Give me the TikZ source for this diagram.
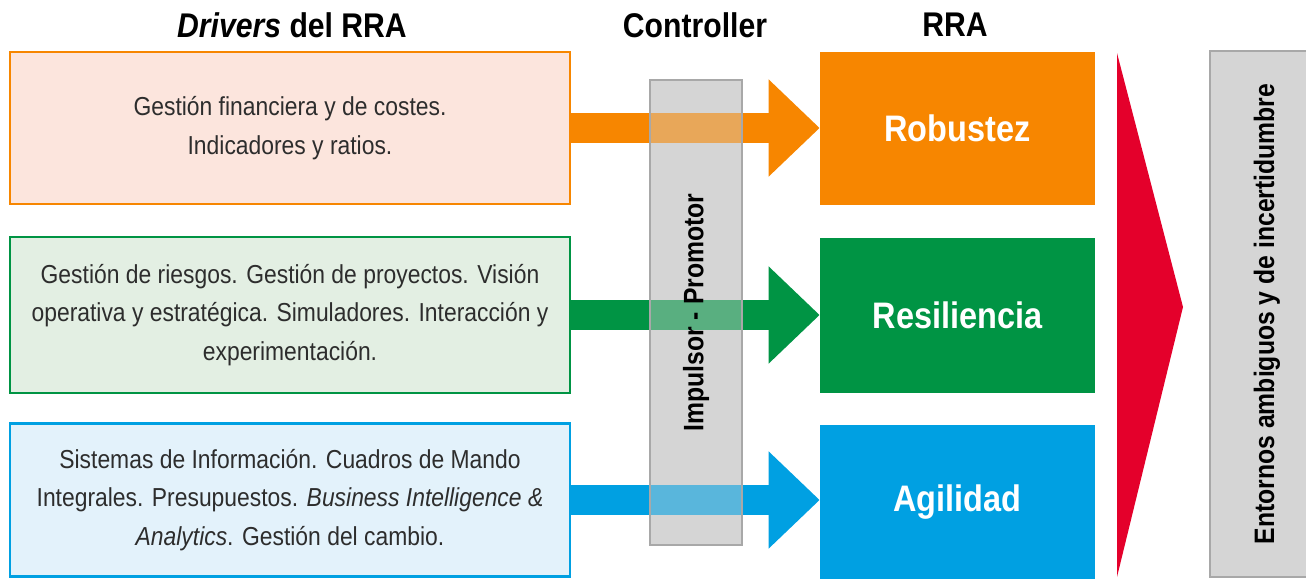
\documentclass[tikz,border=0pt]{standalone}
\usepackage{fontspec}
\setmainfont{Liberation Sans}[FakeStretch=0.88]
\usetikzlibrary{arrows.meta}
\definecolor{robcol}{RGB}{247,134,0}
\definecolor{rescol}{RGB}{0,148,68}
\definecolor{agicol}{RGB}{0,160,226}
\definecolor{robbg}{RGB}{252,229,221}
\definecolor{resbg}{RGB}{227,239,227}
\definecolor{agibg}{RGB}{227,242,251}
\definecolor{ctrlgray}{RGB}{213,213,213}
\definecolor{ctrlline}{RGB}{168,168,168}
\definecolor{envred}{RGB}{228,0,43}
\definecolor{bodytext}{RGB}{45,45,45}
\tikzset{
  driver/.style={draw=#1, line width=1.2pt, minimum width=11.2cm,
    align=center, text=bodytext, font=\fontsize{14.8}{22}\selectfont},
  rra/.style={fill=#1, minimum width=5.5cm, text=white,
    font=\bfseries\fontsize{21}{24}\selectfont},
  heading/.style={font=\bfseries\fontsize{19.5}{22}\selectfont},
  ctrlbox/.style={draw=ctrlline, line width=1.2pt, minimum width=1.84cm},
  bigarrow/.style={line width=0.6cm, -{Triangle[length=1.02cm,width=1.88cm]}},
  sidetext/.style={rotate=90, font=\bfseries\fontsize{16}{18}\selectfont}
}
\begin{document}
\begin{tikzpicture}[x=0.02cm, y=-0.02cm]
  \clip (0,0) rectangle (1306,579);

  % headings
  \node[heading] (hdrv) at (292,25) {\textit{Drivers} del RRA};
  \node[heading] (hctl) at (695,25) {Controller};
  \node[heading] (hrra) at (955,25) {RRA};

  % drivers
  \node[driver=robcol, fill=robbg, minimum height=3.04cm] (d1) at (290,128)
    {Gesti\'on financiera y de costes.\\Indicadores y ratios.};
  \node[driver=rescol, fill=resbg, minimum height=3.12cm] (d2) at (290,315)
    {Gesti\'on de riesgos. Gesti\'on de proyectos. Visi\'on\\
     operativa y estrat\'egica. Simuladores. Interacci\'on y\\
     experimentaci\'on.};
  \node[driver=agicol, fill=agibg, minimum height=3.06cm] (d3) at (290,500)
    {Sistemas de Informaci\'on. Cuadros de Mando\\
     Integrales. Presupuestos. \textit{Business Intelligence \&}\\
     \textit{Analytics}. Gesti\'on del cambio.};

  % RRA
  \node[rra=robcol, minimum height=3.06cm] (rob) at (957.5,128.5) {Robustez};
  \node[rra=rescol, minimum height=3.1cm] (res) at (957.5,315.5) {Resiliencia};
  \node[rra=agicol, minimum height=3.1cm] (agi) at (957.5,502) {Agilidad};

  % controller (solid under the arrows, see-through on top)
  \node[ctrlbox, fill=ctrlgray, minimum height=9.3cm] (ctrl) at (696,312.5) {};

  \draw[bigarrow, robcol] (d1.east) -- (d1.east -| rob.west);
  \draw[bigarrow, rescol] (d2.east) -- (d2.east -| res.west);
  \draw[bigarrow, agicol] (d3.east) -- (d3.east -| agi.west);

  \node[ctrlbox, fill=ctrlgray, fill opacity=0.42, minimum height=9.3cm] (ctrltop) at (ctrl.center) {};
  \node[sidetext] (ctrltxt) at (ctrl.center) {Impulsor - Promotor};

  % entornos
  \fill[envred] (1117,53) -- (1183,307) -- (1117,577) -- cycle;
  \node[ctrlbox, fill=ctrlgray, minimum width=2.4cm, minimum height=10.52cm] (env) at (1270,314) {};
  \node[sidetext] (envtxt) at (1267,314) {Entornos ambiguos y de incertidumbre};
\end{tikzpicture}
\end{document}
